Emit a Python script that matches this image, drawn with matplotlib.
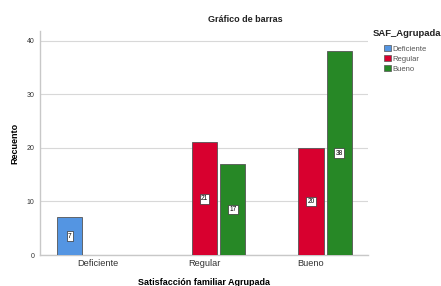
import numpy as np
import matplotlib
matplotlib.use("Agg")
import matplotlib.pyplot as plt
from matplotlib.patches import Patch

plt.rcParams["font.family"] = ["Liberation Sans", "DejaVu Sans"]

categories = ["Deficiente", "Regular", "Bueno"]
series = ["Deficiente", "Regular", "Bueno"]
# counts per category for each series (None = no bar)
counts = {
    "Deficiente": [7, None, None],
    "Regular": [None, 21, 20],
    "Bueno": [None, 17, 38],
}
offsets = {"Deficiente": -1, "Regular": 0, "Bueno": 1}
colors = {"Deficiente": "#5495e2", "Regular": "#d8002f", "Bueno": "#278826"}
yticks = [0, 10, 20, 30, 40]

fig = plt.figure(figsize=(4.41, 2.86), dpi=100)
ax = fig.add_axes([40 / 441, 31 / 286, 328 / 441, 224 / 286])

x = np.arange(len(categories))
slot = 0.265
width = 0.237
for s in series:
    for i, v in enumerate(counts[s]):
        if v is None:
            continue
        xc = x[i] + offsets[s] * slot
        ax.bar(xc, v, width=width, color=colors[s], edgecolor="#555555",
               linewidth=0.6, zorder=3)
        ax.text(xc, v / 2, str(v), ha="center", va="center", fontsize=4.8,
                zorder=4,
                bbox=dict(boxstyle="square,pad=0.2", fc="white", ec="#333333", lw=0.5))

ax.set_xlim(-0.545, 2.535)
ax.set_ylim(0, 41.8)
ax.set_yticks(yticks)
ax.set_xticks(x)
ax.set_xticklabels(categories, fontsize=6.7, color="#333333")
ax.tick_params(axis="y", labelsize=5, length=0, pad=4, colors="#333333")
ax.tick_params(axis="x", length=0, pad=3)
ax.grid(axis="y", color="#d8d8d8", linewidth=0.8, zorder=0)
for side in ["top", "right"]:
    ax.spines[side].set_visible(False)
for side in ["left", "bottom"]:
    ax.spines[side].set_color("#c8c8c8")
    ax.spines[side].set_linewidth(1.0)

ax.set_ylabel("Recuento", fontsize=6.5, fontweight="bold", labelpad=5)
ax.set_xlabel("Satisfacción familiar Agrupada", fontsize=6.5, fontweight="bold", labelpad=7)
fig.text(245 / 441, 1 - 19 / 286, "Gráfico de barras", ha="center", va="center",
         fontsize=6.5, fontweight="bold", color="#222222")

fig.text(373 / 441, 1 - 34 / 286, "SAF_Agrupada", ha="left", va="center",
         fontsize=6.8, fontweight="bold", color="#222222")
handles = [Patch(facecolor=colors[s], edgecolor="#555555", linewidth=0.5) for s in series]
leg = fig.legend(handles, series, loc="upper left", bbox_to_anchor=(383 / 441, 1 - 44 / 286),
                 frameon=False, fontsize=5.5,
                 handlelength=0.9, handleheight=0.9, handletextpad=0.2,
                 labelspacing=0.3, borderpad=0.1, borderaxespad=0)
for t in leg.get_texts():
    t.set_color("#555555")

fig.savefig("out.png", dpi=100)
